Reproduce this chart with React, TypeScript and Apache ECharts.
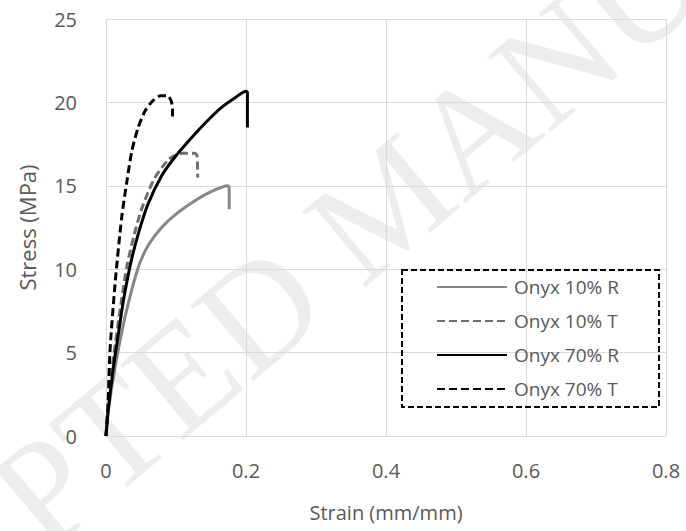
import React, { useEffect, useRef } from "react";
import * as echarts from "echarts";

const seriesNames = ["Onyx 10% R", "Onyx 10% T", "Onyx 70% R", "Onyx 70% T"];

const onyx10R: [number, number][] = [
  [0, 0], [0.004, 1.7], [0.0129, 4.1], [0.027, 7.1], [0.046, 10.1], [0.06, 11.4],
  [0.0795, 12.5], [0.1, 13.3], [0.127, 14.1], [0.15, 14.65], [0.174, 15.0],
  [0.176, 14.9], [0.176, 13.6],
];
const onyx10T: [number, number][] = [
  [0, 0], [0.004, 2], [0.01, 4.5], [0.022, 8.1], [0.03, 10.2], [0.0405, 12.1],
  [0.05, 13.5], [0.06, 14.6], [0.07, 15.5], [0.08, 16.1], [0.09, 16.6], [0.1, 16.85],
  [0.11, 16.95], [0.127, 16.95], [0.13, 16.8], [0.131, 15.5],
];
const onyx70R: [number, number][] = [
  [0, 0], [0.003, 1.5], [0.0105, 4.1], [0.018, 6.2], [0.0248, 8.1], [0.035, 10.3],
  [0.046, 12.1], [0.06, 13.9], [0.0795, 15.6], [0.1, 16.8], [0.127, 18.1],
  [0.145, 18.9], [0.165, 19.7], [0.185, 20.3], [0.2, 20.67], [0.202, 20.6], [0.202, 18.5],
];
const onyx70T: [number, number][] = [
  [0, 0], [0.003, 2], [0.0057, 5.1], [0.0129, 9.1], [0.0224, 13.1], [0.03, 15.3],
  [0.037, 17.1], [0.046, 18.5], [0.056, 19.5], [0.067, 20.1], [0.078, 20.4],
  [0.088, 20.4], [0.093, 20.1], [0.095, 19.6], [0.095, 18.9],
];

const xTicks = { min: 0, max: 0.8, interval: 0.2 };
const yTicks = { min: 0, max: 25, interval: 5 };

const FONT = "'Open Sans', 'Noto Sans', sans-serif";
const TEXT = "#595959";
const GRID = "#d9d9d9";
const WM_FONT = "150px 'Liberation Serif', 'DejaVu Serif', serif";

export default function App() {
  const ref = useRef<HTMLDivElement>(null);
  useEffect(() => {
    if (!ref.current) return;
    const chart = echarts.init(ref.current, null, { renderer: "svg" });
    const rot = (40 * Math.PI) / 180;
    const mk = (name: string, data: [number, number][], color: string, dashed: boolean) => ({
      name,
      type: "line",
      data,
      symbol: "none",
      smooth: 0.25,
      lineStyle: { color, width: 3, type: dashed ? [8, 4] : "solid" },
      itemStyle: { color },
    });
    chart.setOption({
      animation: false,
      textStyle: { fontFamily: FONT },
      grid: { left: 106, right: 20, top: 19, bottom: 95, containLabel: false },
      graphic: [
        {
          type: "text",
          z: -10,
          x: 300,
          y: 275,
          rotation: rot,
          style: {
            text: "ACCEPTED",
            font: WM_FONT,
            fill: "#ededed",
            align: "right",
            verticalAlign: "middle",
            textAlign: "right",
            textVerticalAlign: "middle",
          },
        },
        {
          type: "text",
          z: -10,
          x: 329,
          y: 251,
          rotation: rot,
          style: {
            text: "MANUSCRIPT",
            font: WM_FONT,
            fill: "#ededed",
            align: "left",
            verticalAlign: "middle",
            textAlign: "left",
            textVerticalAlign: "middle",
          },
        },
        {
          type: "rect",
          z: 10,
          shape: { x: 402, y: 270, width: 257, height: 137 },
          style: { fill: "none", stroke: "#000", lineWidth: 2, lineDash: [6, 3] },
        },
      ],
      legend: {
        orient: "vertical",
        left: 436,
        top: 275,
        padding: 0,
        itemWidth: 70,
        itemHeight: 14,
        itemGap: 10,
        data: seriesNames,
        itemStyle: { opacity: 0 },
        textStyle: { fontFamily: FONT, fontSize: 19, color: TEXT, lineHeight: 24, padding: [0, 0, 0, 2] },
      },
      xAxis: {
        type: "value",
        min: xTicks.min,
        max: xTicks.max,
        interval: xTicks.interval,
        name: "Strain (mm/mm)",
        nameLocation: "middle",
        nameGap: 66,
        nameTextStyle: { fontFamily: FONT, fontSize: 20, color: TEXT },
        axisLine: { show: false },
        axisTick: { show: false },
        axisLabel: { fontFamily: FONT, fontSize: 20, color: TEXT, margin: 24 },
        splitLine: { show: true, showMinLine: true, showMaxLine: true, lineStyle: { color: GRID, width: 1 } },
      },
      yAxis: {
        type: "value",
        min: yTicks.min,
        max: yTicks.max,
        interval: yTicks.interval,
        name: "Stress (MPa)",
        nameLocation: "middle",
        nameGap: 68,
        nameTextStyle: { fontFamily: FONT, fontSize: 22, color: TEXT },
        axisLine: { show: false },
        axisTick: { show: false },
        axisLabel: { fontFamily: FONT, fontSize: 20, color: TEXT, margin: 29 },
        splitLine: { show: true, showMinLine: true, showMaxLine: true, lineStyle: { color: GRID, width: 1 } },
      },
      series: [
        mk(seriesNames[0], onyx10R, "#878787", false),
        mk(seriesNames[1], onyx10T, "#6e6e6e", true),
        mk(seriesNames[2], onyx70R, "#000000", false),
        mk(seriesNames[3], onyx70T, "#000000", true),
      ],
    });
    return () => chart.dispose();
  }, []);
  return <div ref={ref} style={{ position: "absolute", left: 0, top: 0, width: 686, height: 531 }} />;
}
